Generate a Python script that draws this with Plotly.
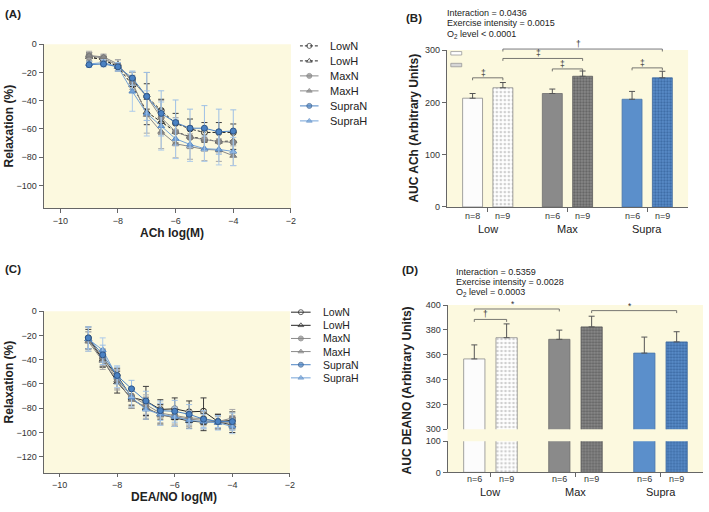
import plotly.graph_objects as go

W, H = 709, 512
FONT = "Liberation Sans, Arial, sans-serif"
BG = "#fcf9df"

# ---- data ----
conc = [-9, -8.5, -8, -7.5, -7, -6.5, -6, -5.5, -5, -4.5, -4]
series = ["LowN", "LowH", "MaxN", "MaxH", "SupraN", "SupraH"]

ach_mean = {
    "LowN":   [-9, -11, -16, -25, -37, -47, -56, -60, -62.5, -62.5, -62.5],
    "LowH":   [-9, -11, -16, -29, -48, -55, -62, -65.5, -67.5, -69, -68.5],
    "MaxN":   [-8, -10, -15, -26, -37, -52, -62, -66, -67.5, -69, -69.5],
    "MaxH":   [-8, -9, -14, -27, -50, -62, -70.5, -72.5, -74.5, -75, -79],
    "SupraN": [-14.5, -14, -16, -24, -37, -49, -55.5, -59.5, -59.5, -62, -61.5],
    "SupraH": [-14, -13, -16, -33.5, -49, -58, -67, -71, -74, -74.5, -76],
}
ach_sem = {
    "LowN":   [3, 2.5, 3, 5, 9, 8, 7, 7, 7, 7, 6],
    "LowH":   [3, 2.5, 3, 5, 9, 9, 8, 7, 7, 7, 6],
    "MaxN":   [3, 2.5, 4, 6, 17, 12, 10, 8, 8, 8, 8],
    "MaxH":   [2, 2, 3, 5, 13, 12, 10, 9, 8, 8, 7],
    "SupraN": [2, 2, 3, 5, 17, 16, 16, 13.5, 16, 16, 15],
    "SupraH": [2, 2, 3, 14, 16, 17, 14, 12, 9, 11, 10],
}
deano_mean = {
    "LowN":   [-22, -39, -53, -71, -74, -81, -80.5, -83, -82.5, -91, -90],
    "LowH":   [-23, -40, -58.5, -72, -80, -85, -88, -90.5, -91.5, -91, -94],
    "MaxN":   [-24, -38, -56, -70, -77, -84, -86, -88, -88.5, -91, -88],
    "MaxH":   [-25, -41, -57, -73, -79, -86, -87, -89, -90, -92, -92],
    "SupraN": [-22, -36, -53, -64, -74, -82, -82.5, -85, -89, -91, -91],
    "SupraH": [-23, -32, -54, -71, -81, -85, -87, -90, -91, -92, -95],
}
deano_sem = {
    "LowN":   [9, 7, 6, 7, 12, 8, 9, 9, 11, 6, 7],
    "LowH":   [8, 6, 9, 8, 9, 8, 7, 6, 7, 6, 6],
    "MaxN":   [7, 7, 8, 7, 8, 8, 7, 6, 6, 5, 7],
    "MaxH":   [8, 7, 8, 7, 8, 8, 7, 6, 7, 5, 6],
    "SupraN": [9, 8, 7, 7, 8, 8, 9, 8, 7, 5, 7],
    "SupraH": [10, 10, 9, 8, 8, 9, 8, 7, 6, 6, 6],
}

exercise = ["Low", "Max", "Supra"]
auc_ach = [208, 228, 217, 250, 206, 247]
auc_ach_sem = [9, 10, 8.5, 10, 15, 12.5]
n_ach = [8, 9, 6, 9, 6, 9]
auc_deano = [356.6, 373.7, 372.4, 382.4, 361.3, 370.3]
auc_deano_sem = [11.3, 11.1, 7.4, 8.6, 12.9, 8.2]
n_deano = [6, 9, 6, 9, 6, 9]

# (bar from, bar to, height, symbol)
ach_brackets = [(1, 5, 302, "†"), (1, 3, 284, "‡"), (2, 3, 264, "‡"),
                (4, 5, 266, "‡"), (0, 1, 247, "‡")]
deano_brackets = [(0, 2, 396.8, "*"), (0, 1, 388.4, "†"), (3, 5, 395.5, "*")]

ach_stats = ["Interaction = 0.0436", "Exercise intensity = 0.0015",
             "O<sub>2</sub> level &lt; 0.0001"]
deano_stats = ["Interaction = 0.5359", "Exercise intensity = 0.0028",
               "O<sub>2</sub> level = 0.0003"]

# ---- styles ----
style = {
    "LowN":   dict(color="#262626", edge="#262626", err="#3c3c3c", symbol="circle-open"),
    "LowH":   dict(color="#262626", edge="#262626", err="#3c3c3c", symbol="triangle-up-open"),
    "MaxN":   dict(color="#8a8a8a", edge="#7a7a7a", err="#a8a8a8", symbol="circle"),
    "MaxH":   dict(color="#8a8a8a", edge="#7a7a7a", err="#a8a8a8", symbol="triangle-up"),
    "SupraN": dict(color="#4a82c3", edge="#2f5687", err="#9ec0e5", symbol="circle"),
    "SupraH": dict(color="#74a3d8", edge="#5b8cc6", err="#aecbea", symbol="triangle-up"),
}
bar_style = [
    dict(color="#fcfcfc", line="#8c8c8c", pattern=None),
    dict(color="#ffffff", line="#8c8c8c", pattern=dict(shape=".", fgcolor="#a0a0a0", size=4, solidity=0.35)),
    dict(color="#8a8a8a", line="#6e6e6e", pattern=None),
    dict(color="#8a8a8a", line="#5e5e5e", pattern=dict(shape=".", fgcolor="#3a3a3a", size=3, solidity=0.45)),
    dict(color="#5b8fcb", line="#4a76aa", pattern=None),
    dict(color="#5b8fcb", line="#3e6aa0", pattern=dict(shape=".", fgcolor="#1c4279", size=3, solidity=0.45)),
]


def px(x):
    return x / W


def py(y):
    return 1 - y / H


def bar_pos(i):
    return i // 2 + (-0.19 if i % 2 == 0 else 0.19)


fig = go.Figure()

# ---- dose-response curves (A and C) ----
draw_order = ["LowN", "LowH", "MaxN", "MaxH", "SupraH", "SupraN"]
for panel, means, sems, xa, ya in [("A", ach_mean, ach_sem, "x", "y"),
                                    ("C", deano_mean, deano_sem, "x3", "y3")]:
    for name in draw_order:
        s = style[name]
        dash = "3px,2px" if (panel == "A" and name.startswith("Low")) else "solid"
        fig.add_trace(go.Scatter(
            x=conc, y=means[name], mode="lines+markers",
            line=dict(color=s["color"], width=1, dash=dash),
            marker=dict(symbol=s["symbol"], size=6, color=s["color"],
                        line=dict(color=s["edge"], width=1)),
            error_y=dict(type="data", array=sems[name], color=s["err"],
                         thickness=1, width=3),
            xaxis=xa, yaxis=ya, showlegend=False, cliponaxis=False))

# ---- manual legends for A and C ----
for lx, ly, dash_low in [("x5", "y6", "3px,2px"), ("x6", "y7", "solid")]:
    for i, name in enumerate(series):
        s = style[name]
        fig.add_trace(go.Scatter(
            x=[0, 0.5, 1], y=[i, i, i], mode="lines+markers",
            line=dict(color=s["color"], width=1,
                      dash=dash_low if name.startswith("Low") else "solid"),
            marker=dict(symbol=s["symbol"], size=[0, 5, 0], color=s["color"],
                        line=dict(color=s["edge"], width=1)),
            xaxis=lx, yaxis=ly, showlegend=False, hoverinfo="skip",
            cliponaxis=False))


# ---- bars (B and D) ----
def add_bars(vals, sems, xa, ya, with_err=True):
    for i, v in enumerate(vals):
        b = bar_style[i]
        marker = dict(color=b["color"], line=dict(color=b["line"], width=0.8))
        if b["pattern"]:
            marker["pattern"] = dict(fillmode="overlay", **b["pattern"])
        kw = {}
        if with_err:
            kw["error_y"] = dict(type="data", symmetric=False, array=[sems[i]],
                                 arrayminus=[0], color="#555555", thickness=1, width=3)
        fig.add_trace(go.Bar(x=[bar_pos(i)], y=[v], width=0.25, marker=marker,
                             xaxis=xa, yaxis=ya, showlegend=False, **kw))


add_bars(auc_ach, auc_ach_sem, "x2", "y2")
add_bars(auc_deano, auc_deano_sem, "x4", "y4", with_err=False)
add_bars(auc_deano, auc_deano_sem, "x4", "y5")

# ---- layout ----
tickfont = dict(family=FONT, size=9, color="#333333")
axis_common = dict(showline=True, linecolor="#666666", linewidth=1, ticks="outside",
                   tickcolor="#666666", tickwidth=1, tickfont=tickfont,
                   showgrid=False, zeroline=False, fixedrange=True)

# panel geometry in pixels: (left, right) and (top, bottom) + ranges
B_X, B_XR, B_Y, B_YR = (450, 693), (-0.513, 2.513), (46, 206), (0, 300)
D_X, D_XR, D_YU, D_YUR = (450.7, 708), (-0.505, 2.5), (306, 432.7), (300, 400)

layout = dict(
    width=W, height=H, margin=dict(l=0, r=0, t=0, b=0),
    paper_bgcolor="white", plot_bgcolor="rgba(0,0,0,0)",
    barmode="overlay", showlegend=False,
    font=dict(family=FONT, color="#222222"),
    xaxis=dict(domain=[px(44), px(293)], range=[-10.575, -2], anchor="y", ticklen=4,
               tickvals=[-10, -8, -6, -4, -2], **axis_common),
    yaxis=dict(domain=[py(207), py(40)], range=[-116, 0], anchor="x", ticklen=4,
               tickvals=[0, -20, -40, -60, -80, -100], **axis_common),
    xaxis3=dict(domain=[px(44), px(292)], range=[-10.55, -2], anchor="y3", ticklen=3,
                tickvals=[-10, -8, -6, -4, -2], **axis_common),
    yaxis3=dict(domain=[py(477.7), py(312.3)], range=[-133.7, 0], anchor="x3", ticklen=4,
                tickvals=[0, -20, -40, -60, -80, -100, -120], **axis_common),
    xaxis2=dict(domain=[px(B_X[0]), px(B_X[1])], range=list(B_XR), anchor="y2", ticklen=4,
                tickvals=[0, 1, 2], showticklabels=False, **axis_common),
    yaxis2=dict(domain=[py(B_Y[1]), py(B_Y[0])], range=list(B_YR), anchor="x2", ticklen=4,
                tickvals=[0, 100, 200, 300], **axis_common),
    xaxis4=dict(domain=[px(D_X[0]), px(D_X[1])], range=list(D_XR), anchor="y4", ticklen=4,
                tickvals=[0, 1, 2], showticklabels=False, **axis_common),
    yaxis4=dict(domain=[py(476.7), py(445)], range=[0, 100], anchor="x4", ticklen=4,
                tickvals=[0, 100], **axis_common),
    yaxis5=dict(domain=[py(D_YU[1]), py(D_YU[0])], range=list(D_YUR), anchor="x4", ticklen=4,
                tickvals=[300, 320, 340, 360, 380, 400], **axis_common),
    xaxis5=dict(domain=[px(302), px(321)], range=[0, 1], anchor="y6", visible=False),
    yaxis6=dict(domain=[py(125.85), py(34.05)], range=[5.5, -0.5], anchor="x5", visible=False),
    xaxis6=dict(domain=[px(293), px(313)], range=[0, 1], anchor="y7", visible=False),
    yaxis7=dict(domain=[py(387), py(306.6)], range=[5.5, -0.5], anchor="x6", visible=False),
)

shapes = []
for xr, yr in [("x domain", "y domain"), ("x2 domain", "y2 domain"), ("x3 domain", "y3 domain")]:
    shapes.append(dict(type="rect", xref=xr, yref=yr, x0=0, x1=1, y0=0, y1=1,
                       fillcolor=BG, line=dict(width=0), layer="below"))
shapes.append(dict(type="rect", xref="x4 domain", yref="paper", x0=0, x1=1,
                   y0=py(476.7), y1=py(306), fillcolor=BG, line=dict(width=0), layer="below"))

annotations = []


def to_px(v, rng, span):
    return span[0] + (v - rng[0]) / (rng[1] - rng[0]) * (span[1] - span[0])


def add_brackets(brackets, xspan, xrng, yspan, yrng, tick_px):
    # brackets are drawn in paper space so they are not clipped at the axis top
    for a, b, h, sym in brackets:
        x0 = px(to_px(bar_pos(a), xrng, xspan))
        x1 = px(to_px(bar_pos(b), xrng, xspan))
        yp = to_px(h, yrng, (yspan[1], yspan[0]))
        y = py(yp)
        yt = py(yp + tick_px)
        shapes.append(dict(type="path", xref="paper", yref="paper",
                           path=f"M {x0},{yt} L {x0},{y} L {x1},{y} L {x1},{yt}",
                           line=dict(color="#555555", width=0.8)))
        annotations.append(dict(x=(x0 + x1) / 2, y=y, xref="paper", yref="paper", text=sym,
                                showarrow=False, yanchor="bottom", yshift=-2,
                                font=dict(size=8.5, color="#333333")))


add_brackets(ach_brackets, B_X, B_XR, B_Y, B_YR, 2.5)
add_brackets(deano_brackets, D_X, D_XR, D_YU, D_YUR, 2.5)

# bar legend keys in B
shapes.append(dict(type="rect", xref="paper", yref="paper", x0=px(454), x1=px(465),
                   y0=py(51), y1=py(47.5), fillcolor="white", line=dict(color="#999999", width=0.8)))
shapes.append(dict(type="rect", xref="paper", yref="paper", x0=px(454), x1=px(465),
                   y0=py(63), y1=py(59.5), fillcolor="#d6d6d6", line=dict(color="#999999", width=0.8)))


def txt(x, y, text, size, bold=False, anchor="center", angle=0, color="#222222"):
    annotations.append(dict(x=px(x), y=py(y), xref="paper", yref="paper",
                            text=f"<b>{text}</b>" if bold else text, showarrow=False,
                            xanchor=anchor, yanchor="middle", textangle=angle,
                            font=dict(size=size, color=color)))


# panel labels
txt(13, 9, "(A)", 11.5, bold=True)
txt(417, 13, "(B)", 11.5, bold=True)
txt(13, 269, "(C)", 11.5, bold=True)
txt(413, 270, "(D)", 11.5, bold=True)

# axis titles
txt(9, 123, "Relaxation (%)", 12, bold=True, angle=-90)
txt(173, 233, "ACh log(M)", 12, bold=True)
txt(9, 384, "Relaxation (%)", 12, bold=True, angle=-90)
txt(175, 502, "DEA/NO log(M)", 12, bold=True)
txt(416, 126, "AUC ACh (Arbitrary Units)", 12, bold=True, angle=-90)
txt(410, 393, "AUC DEANO (Arbitrary Units)", 12, bold=True, angle=-90)

# stats text
for k, s in enumerate(ach_stats):
    txt(448, 8 + 10.8 * k, s, 9, anchor="left")
for k, s in enumerate(deano_stats):
    txt(457, 272 + 10.5 * k, s, 9, anchor="left")

# n labels and group labels under bars
for i in range(6):
    annotations.append(dict(x=bar_pos(i), y=py(215), xref="x2", yref="paper",
                            text=f"n={n_ach[i]}", showarrow=False, yanchor="middle",
                            font=dict(size=9, color="#333333")))
    annotations.append(dict(x=bar_pos(i), y=py(483.5), xref="x4", yref="paper",
                            text=f"n={n_deano[i]}", showarrow=False, yanchor="middle",
                            font=dict(size=9, color="#333333")))
for g, name in enumerate(exercise):
    annotations.append(dict(x=g, y=py(228.5), xref="x2", yref="paper", text=name,
                            showarrow=False, yanchor="middle", font=dict(size=11, color="#222222")))
    annotations.append(dict(x=g, y=py(497), xref="x4", yref="paper", text=name,
                            showarrow=False, yanchor="middle", font=dict(size=11, color="#222222")))

# legend labels
for i, name in enumerate(series):
    annotations.append(dict(x=px(330), y=i, xref="paper", yref="y6", text=name,
                            showarrow=False, xanchor="left", yanchor="middle",
                            font=dict(size=11, color="#222222")))
    annotations.append(dict(x=px(323), y=i, xref="paper", yref="y7", text=name,
                            showarrow=False, xanchor="left", yanchor="middle",
                            font=dict(size=10.5, color="#222222")))

layout["shapes"] = shapes
layout["annotations"] = annotations
fig.update_layout(**layout)

# page body margin would otherwise shift the 709x512 figure
fig.write_html("out.html", config={"displayModeBar": False},
               post_script="document.body.style.margin='0px';")
